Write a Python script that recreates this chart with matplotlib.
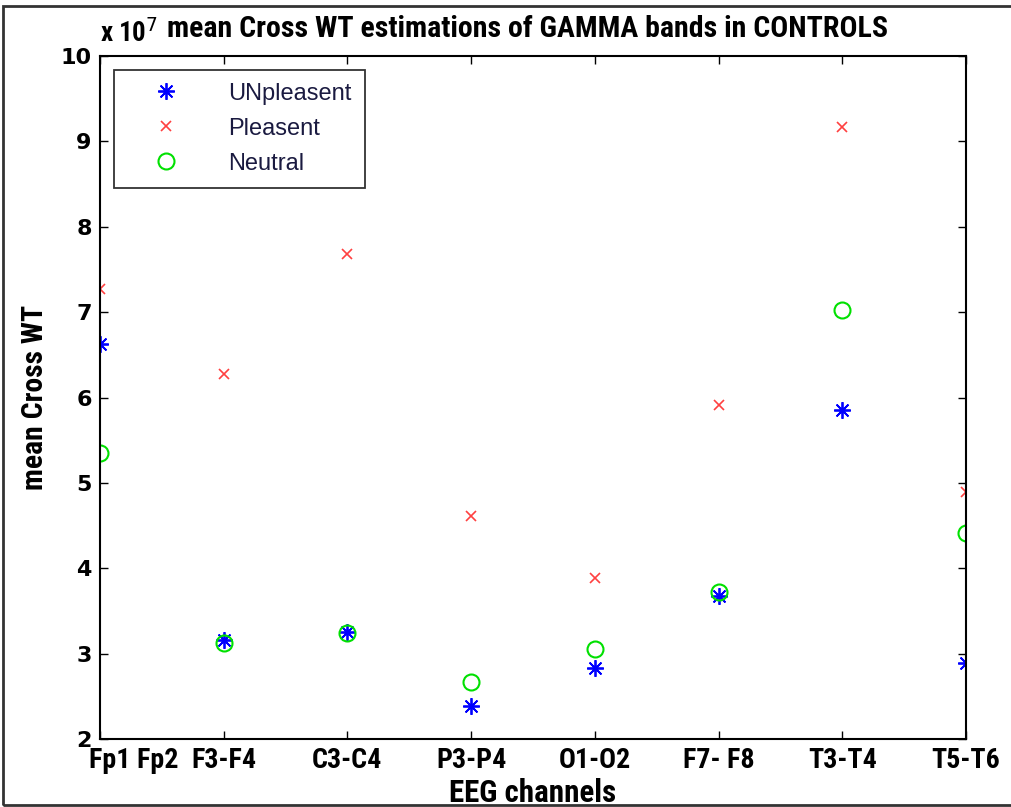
import matplotlib
matplotlib.use("Agg")
import matplotlib.pyplot as plt
from matplotlib.patches import Rectangle
from matplotlib import font_manager as fm
from matplotlib.transforms import ScaledTranslation

channels = ["Fp1 Fp2", "F3-F4", "C3-C4", "P3-P4", "O1-O2", "F7- F8", "T3-T4", "T5-T6"]
unpleasent = [6.63, 3.16, 3.25, 2.39, 2.83, 3.67, 5.85, 2.89]
pleasent = [7.27, 6.28, 7.68, 4.61, 3.89, 5.91, 9.17, 4.89]
neutral = [5.35, 3.12, 3.24, 2.67, 3.06, 3.72, 7.03, 4.41]

names = {f.name for f in fm.fontManager.ttflist}
narrow = "DejaVu Sans"
for cand in ["Liberation Sans Narrow", "Arial Narrow", "Roboto Condensed",
             "Asap Condensed", "Barlow Condensed"]:
    if cand in names:
        narrow = cand
        break

fig = plt.figure(figsize=(10.12, 8.07), dpi=100)
ax = fig.add_axes([100/1012, 1-739/807, 866/1012, (739-56)/807])

x = list(range(1, len(channels) + 1))
ax.plot(x, unpleasent, linestyle="none", marker=(8, 2, 0), color="#0000ff",
        markersize=12, markeredgewidth=1.3, label="UNpleasent")
ax.plot(x, pleasent, linestyle="none", marker="x", color="#ff4040",
        markersize=6.5, markeredgewidth=1.2, label="Pleasent")
ax.plot(x, neutral, linestyle="none", marker="o", markerfacecolor="none",
        markeredgecolor="#00e000", markersize=11.5, markeredgewidth=1.5, label="Neutral")

ax.set_xlim(1, 8)
ax.set_ylim(2, 10)
ax.set_xticks(x)
ax.set_xticklabels(channels, fontfamily=narrow, fontweight="bold", fontsize=20)
ax.set_yticks(range(2, 11))
ax.set_yticklabels([str(v) for v in range(2, 11)], fontweight="bold", fontsize=16,
                   fontfamily="DejaVu Sans")
ax.tick_params(direction="in", top=True, right=True, length=6, width=1)
ax.tick_params(axis="x", pad=6)
ax.tick_params(axis="y", pad=6)
for s in ax.spines.values():
    s.set_linewidth(1.5)

xl = ax.set_xlabel("EEG channels", fontfamily=narrow, fontweight="bold", fontsize=20, labelpad=3)
yl = ax.set_ylabel("mean Cross WT", fontfamily=narrow, fontweight="bold", fontsize=20, labelpad=8)
tt = ax.set_title("mean Cross WT estimations of GAMMA bands in CONTROLS", fontfamily=narrow,
                  fontweight="bold", fontsize=20, pad=14, x=0.494)
xt = ax.text(0.0, 1.012, r"x 10$^{7}$", transform=ax.transAxes, fontfamily=narrow,
             fontweight="bold", fontsize=20, ha="left", va="bottom")

# fit font sizes to measured text widths (pixels) in the reference
fig.canvas.draw()
r = fig.canvas.get_renderer()
def fit(t, w, horizontal=True):
    bb = t.get_window_extent(r)
    cur = bb.width if horizontal else bb.height
    t.set_fontsize(t.get_fontsize() * w / cur)
fit(tt, 720)
fit(xl, 167)
fit(yl, 185, horizontal=False)
fit(xt, 58)
lab = ax.get_xticklabels()[1]
s = 65 / lab.get_window_extent(r).width * lab.get_fontsize()
for l in ax.get_xticklabels():
    l.set_fontsize(s)
first = ax.get_xticklabels()[0]
first.set_transform(first.get_transform() + ScaledTranslation(34/100, 0, fig.dpi_scale_trans))

leg = ax.legend(loc="upper left", bbox_to_anchor=(0.016, 0.98), fontsize=17,
                frameon=True, fancybox=False, edgecolor="black", borderpad=0.55,
                handlelength=3.3, handletextpad=1.0, labelspacing=0.55,
                borderaxespad=0)
leg.get_frame().set_linewidth(1.3)
for t in leg.get_texts():
    t.set_fontfamily("Liberation Sans")
    t.set_color("#1a1a40")

fig.patches.append(Rectangle((3/1012, 2/807), 1.0, 1-8/807, transform=fig.transFigure,
                             fill=False, edgecolor="#333333", linewidth=2))

fig.savefig("out.png", dpi=100)
